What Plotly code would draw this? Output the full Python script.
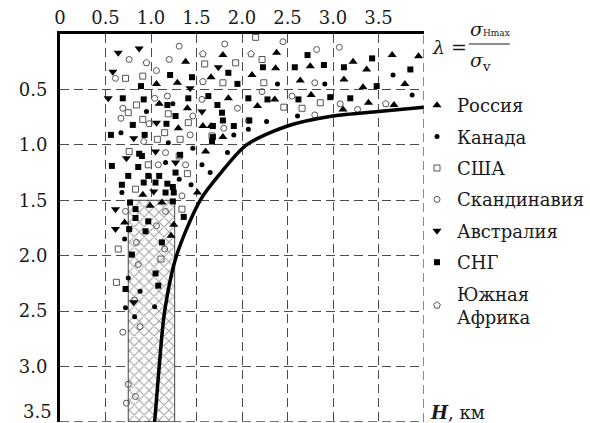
import plotly.graph_objects as go

# ---------------- data ----------------
russia_x = [1.38, 1.06, 1.29, 1.79, 1.66, 1.09, 1.40, 1.30, 1.57, 1.66, 1.79, 1.85, 2.17, 2.36, 2.38, 2.37, 2.11, 2.75, 2.64,
            3.22, 3.37, 3.12, 3.33, 3.65, 3.94, 3.79, 2.76, 3.39, 3.11, 3.67, 1.60, 0.91, 1.51, 1.12, 0.99, 0.71, 1.25, 1.22]
russia_y = [0.25, 0.45, 0.44, 0.19, 0.39, 0.63, 0.67, 0.85, 0.83, 0.83, 0.93, 0.58, 0.65, 0.59, 0.17, 0.31, 0.37, 0.29, 0.42,
            0.25, 0.32, 0.41, 0.48, 0.19, 0.20, 0.45, 0.55, 0.62, 0.68, 0.64, 1.06, 1.45, 1.43, 1.52, 1.55, 1.70, 1.72, 1.82]

canada_x = [0.95, 1.16, 1.56, 1.65, 1.44, 0.68, 0.71, 1.24, 0.67, 1.19, 1.91, 2.27, 2.07, 2.61, 3.87, 1.46, 1.84, 0.75,
            0.72, 0.82, 1.04, 0.88, 1.31, 2.91, 3.66, 2.39]
canada_y = [0.70, 1.16, 1.18, 1.25, 1.36, 1.43, 1.85, 0.63, 0.89, 0.98, 0.91, 0.79, 0.86, 0.74, 0.55, 1.03, 1.07, 2.20,
            2.47, 2.55, 2.46, 2.32, 1.31, 0.45, 0.37, 0.45]

usa_x = [0.72, 0.91, 1.59, 1.93, 1.79, 0.75, 0.84, 1.19, 0.91, 1.41, 1.07, 1.15, 1.32, 1.67, 2.46, 2.22, 2.24, 2.86, 2.66,
         0.76, 1.31, 0.97, 1.40, 0.83, 1.34, 0.64, 1.11, 0.62, 2.15]
usa_y = [0.40, 0.38, 0.27, 0.26, 0.44, 0.71, 0.64, 0.72, 0.77, 0.80, 0.95, 0.89, 0.95, 0.92, 0.66, 0.23, 0.44, 0.62, 0.67,
         1.06, 1.10, 1.18, 1.26, 1.40, 1.58, 1.94, 2.03, 2.24, 0.03]

scand_x = [0.76, 0.61, 1.31, 1.20, 1.06, 1.81, 0.69, 1.04, 1.46, 0.67, 0.92, 1.43, 1.56, 1.95, 2.22, 2.55, 2.45, 2.82,
           2.80, 3.07, 2.80, 3.08, 3.27, 1.18, 1.80, 1.16, 1.08, 1.38, 1.34, 0.72, 1.16, 1.06, 0.84, 1.15, 0.86, 0.82,
           0.69, 0.75, 0.73, 0.83, 0.88, 2.07]
scand_y = [0.23, 0.40, 0.11, 0.23, 0.33, 0.09, 0.67, 0.58, 0.74, 0.76, 0.97, 0.91, 0.59, 0.67, 0.52, 0.56, 0.07, 0.14,
           0.44, 0.12, 0.73, 0.63, 0.68, 0.56, 0.85, 1.07, 1.18, 1.18, 1.46, 1.60, 1.60, 1.73, 1.88, 1.94, 2.08, 2.40,
           2.69, 3.16, 3.33, 3.27, 2.64, 0.78]

austr_x = [0.64, 0.87, 0.58, 1.43, 1.74, 0.53, 1.06, 0.81, 1.56, 1.05, 0.73, 1.27, 1.03, 0.61, 0.61, 0.81]
austr_y = [0.17, 0.13, 0.34, 0.49, 0.30, 0.58, 0.80, 0.94, 0.70, 1.06, 1.12, 1.16, 1.42, 1.58, 1.76, 2.42]

cis_x = [0.89, 1.21, 1.45, 1.85, 1.95, 0.69, 0.92, 1.18, 1.27, 1.41, 0.80, 1.17, 0.56, 0.93, 1.68, 1.79, 1.91, 1.68,
         1.67, 1.63, 1.73, 1.78, 2.07, 2.28, 2.08, 2.23, 2.72, 2.58, 2.90, 3.12, 3.43, 3.48, 3.85, 2.62, 2.97, 3.19,
         0.87, 1.32, 0.90, 0.57, 0.86, 0.75, 0.97, 1.09, 1.27, 0.68, 0.92, 1.18, 1.24, 1.05, 1.25, 1.16, 0.77, 1.24,
         0.83, 1.36, 0.83, 0.97, 0.76, 0.94, 1.12, 0.79, 1.05, 0.72, 1.08]
cis_y = [0.47, 0.37, 0.39, 0.35, 0.45, 0.58, 0.59, 0.64, 0.74, 0.58, 0.82, 0.81, 0.91, 0.91, 0.83, 0.78, 0.83, 0.93,
         0.97, 0.56, 0.64, 0.71, 0.58, 0.59, 0.78, 0.30, 0.19, 0.30, 0.28, 0.30, 0.22, 0.47, 0.32, 0.59, 0.57, 0.58,
         1.08, 1.09, 1.10, 1.19, 1.20, 1.28, 1.28, 1.28, 1.25, 1.36, 1.34, 1.35, 1.38, 1.34, 1.43, 1.43, 1.52, 1.51,
         1.58, 1.65, 1.66, 1.69, 1.76, 1.78, 1.88, 1.99, 2.16, 2.30, 2.27]

safrica_x = [0.95, 1.57, 1.57, 2.10, 0.98, 3.58]
safrica_y = [0.26, 0.18, 0.43, 0.18, 0.81, 0.63]

curve_x = [1.04, 1.09, 1.15, 1.28, 1.54, 1.77, 2.05, 2.50, 3.00, 3.50, 4.00]
curve_y = [3.50, 3.00, 2.50, 2.00, 1.50, 1.25, 1.00, 0.83, 0.74, 0.70, 0.66]

hatch_lam = [0.75, 1.26]
hatch_h = [1.5, 3.5]

x_ticks = [0, 0.5, 1.0, 1.5, 2.0, 2.5, 3.0, 3.5]
x_labels = ["0", "0.5", "1.0", "1.5", "2.0", "2.5", "3.0", "3.5"]
y_ticks = [0.5, 1.0, 1.5, 2.0, 2.5, 3.0]
y_labels = ["0.5", "1.0", "1.5", "2.0", "2.5", "3.0"]
y_last_tick, y_last_label = 3.5, "3.5"
x_max, y_max = 4.0, 3.5

# ---------------- figure ----------------
SERIF = "DejaVu Serif, Liberation Serif, serif"
TXT = "#1a1a1a"
GRID = "#4a4a4a"
fig = go.Figure()

fig.add_trace(go.Scatter(
    x=[hatch_lam[0], hatch_lam[1], hatch_lam[1], hatch_lam[0], hatch_lam[0]],
    y=[hatch_h[0], hatch_h[0], hatch_h[1], hatch_h[1], hatch_h[0]],
    mode="lines", fill="toself", fillcolor="white",
    fillpattern=dict(shape="x", fgcolor="#444", bgcolor="white", size=7, solidity=0.28),
    line=dict(color="#444", width=1), showlegend=False, hoverinfo="skip"))

series = [
    ("Россия", russia_x, russia_y, dict(symbol="triangle-up", size=8, color="black")),
    ("Канада", canada_x, canada_y, dict(symbol="circle", size=5, color="black")),
    ("США", usa_x, usa_y, dict(symbol="square-open", size=6, color="#555", line=dict(width=1))),
    ("Скандинавия", scand_x, scand_y, dict(symbol="circle-open", size=6, color="#555", line=dict(width=1))),
    ("Австралия", austr_x, austr_y, dict(symbol="triangle-down", size=8, color="black")),
    ("СНГ", cis_x, cis_y, dict(symbol="square", size=6, color="black")),
    ("Южная<br>Африка", safrica_x, safrica_y, dict(symbol="pentagon-open", size=7, color="#555", line=dict(width=1))),
]
for i, (name, xs, ys, mk) in enumerate(series):
    fig.add_trace(go.Scatter(x=xs, y=ys, mode="markers", name=name, marker=mk,
                             legendgroup=f"g{i}", showlegend=True))

fig.add_trace(go.Scatter(x=curve_x, y=curve_y, mode="lines",
                         line=dict(color="black", width=3.5, shape="spline", smoothing=0.8),
                         showlegend=False, hoverinfo="skip"))

PW, PH = 365, 388
fig.update_layout(
    width=590, height=423,
    margin=dict(l=60, r=165, t=34, b=1),
    paper_bgcolor="white", plot_bgcolor="white",
    font=dict(family=SERIF, size=18, color=TXT),
    showlegend=True,
    legend=dict(x=1.0 - 8 / PW, xanchor="left", y=1 - 53 / PH, yanchor="top",
                font=dict(family=SERIF, size=18, color=TXT),
                itemwidth=30, tracegroupgap=5, bgcolor="rgba(0,0,0,0)", borderwidth=0),
    xaxis=dict(range=[0, x_max], side="top", tickvals=x_ticks, ticktext=x_labels,
               showgrid=True, gridcolor=GRID, griddash="9px,5px", gridwidth=1.3,
               showline=True, linecolor="black", linewidth=3,
               ticks="", zeroline=False, tickfont=dict(family=SERIF, size=18, color=TXT)),
    yaxis=dict(range=[y_max, 0], tickvals=y_ticks, ticktext=y_labels,
               showgrid=True, gridcolor=GRID, griddash="9px,5px", gridwidth=1.3,
               showline=True, linecolor="black", linewidth=3,
               ticks="", zeroline=False, ticklabelstandoff=6, tickfont=dict(family=SERIF, size=18, color=TXT)),
)

# border grid lines at the right and bottom edges
fig.add_shape(type="line", xref="x", yref="paper", x0=x_max, x1=x_max, y0=0, y1=1,
              line=dict(color=GRID, width=1.3, dash="9px,5px"))
fig.add_shape(type="line", xref="paper", yref="y", x0=0, x1=1, y0=y_max, y1=y_max,
              line=dict(color=GRID, width=1.3, dash="9px,5px"))

# last y tick label (near bottom edge)
fig.add_annotation(xref="paper", yref="paper", x=-6 / PW, y=(421 - 410) / PH, xanchor="right", yanchor="middle",
                   text=y_last_label, showarrow=False, font=dict(family=SERIF, size=18, color=TXT))

# lambda = sigma_Hmax / sigma_v
fig.add_annotation(xref="paper", yref="paper", x=1.0 + 6 / PW, y=1 - (47 - 34) / PH, xanchor="left", yanchor="middle",
                   text="<i>λ</i> =", showarrow=False, font=dict(family=SERIF, size=19, color=TXT))
fig.add_annotation(xref="paper", yref="paper", x=1.0 + 44 / PW, y=1 - (29 - 34) / PH, xanchor="left", yanchor="middle",
                   text="<i>σ</i><span style='font-size:9px'>Hmax</span>", showarrow=False,
                   font=dict(family=SERIF, size=19, color=TXT))
fig.add_annotation(xref="paper", yref="paper", x=1.0 + 44 / PW, y=1 - (62 - 34) / PH, xanchor="left", yanchor="middle",
                   text="<i>σ</i><sub>v</sub>", showarrow=False, font=dict(family=SERIF, size=19, color=TXT))
fig.add_shape(type="line", xref="paper", yref="paper", x0=1.0 + 45 / PW, x1=1.0 + 86 / PW,
              y0=1 - (44 - 34) / PH, y1=1 - (44 - 34) / PH, line=dict(color=TXT, width=1))

fig.add_annotation(xref="paper", yref="paper", x=1.0 + 4 / PW, y=1 - (412 - 34) / PH, xanchor="left", yanchor="middle",
                   text="<b><i>H</i></b>, км", showarrow=False, font=dict(family=SERIF, size=18, color=TXT))

fig.write_html("out.html")
